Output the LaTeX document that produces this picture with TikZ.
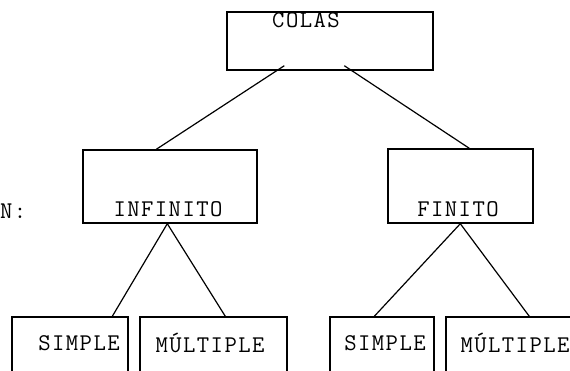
\documentclass[tikz,border=0pt]{standalone}
\usepackage{fontspec}
\newfontfamily\lbltt{Latin Modern Mono}[LetterSpace=6]
\usetikzlibrary{calc}
\begin{document}
\begin{tikzpicture}[x=1pt,y=-1pt,
  box/.style={draw,line width=1.4pt,rectangle,inner sep=0pt},
  lbl/.style={font=\fontsize{24}{28}\lbltt,inner sep=0pt},
  conn/.style={line width=1.2pt}]
\useasboundingbox (0,0) rectangle (570,370);
\clip (0,0) rectangle (570,370);
% boxes
\node[box,minimum width=206pt,minimum height=58pt] (colas) at (330,41) {};
\node[box,minimum width=174pt,minimum height=73pt] (inf) at (170,186.5) {};
\node[box,minimum width=145pt,minimum height=74pt] (fin) at (460.5,186) {};
\node[box,minimum width=116pt,minimum height=80pt] (s1) at (70,357) {};
\node[box,minimum width=147pt,minimum height=80pt] (m1) at (213.5,357) {};
\node[box,minimum width=104pt,minimum height=80pt] (s2) at (382,357) {};
\node[box,minimum width=160pt,minimum height=80pt] (m2) at (526,357) {};
% labels
\node[lbl] (tcolas) at (306,20) {COLAS};
\node[lbl] (tinf) at (168,209) {INFINITO};
\node[lbl] (tfin) at (458,209) {FINITO};
\node[lbl] (ts1) at (79,343) {SIMPLE};
\node[lbl] (tm1) at (210,343) {MÚLTIPLE};
\node[lbl] (ts2) at (385,343) {SIMPLE};
\node[lbl] (tm2) at (515,343) {MÚLTIPLE};
\node[lbl,anchor=west] (tn) at (0,211) {N:};
% connector ends
\coordinate (c1) at ($(colas.south west)+(58,-5)$);
\coordinate (c2) at ($(colas.south west)+(118,-5)$);
\coordinate (i0) at ($(inf.north west)+(74,0)$);
\coordinate (f0) at ($(fin.north west)+(82,0)$);
\coordinate (ib) at ($(inf.south west)+(85,0)$);
\coordinate (fb) at ($(fin.south west)+(73,0)$);
\coordinate (s1t) at ($(s1.north west)+(101,0)$);
\coordinate (m1t) at ($(m1.north west)+(86,0)$);
\coordinate (s2t) at ($(s2.north west)+(45,0)$);
\coordinate (m2t) at ($(m2.north west)+(84,0)$);
\draw[conn] (c1) -- (i0);
\draw[conn] (c2) -- (f0);
\draw[conn] (ib) -- (s1t);
\draw[conn] (ib) -- (m1t);
\draw[conn] (fb) -- (s2t);
\draw[conn] (fb) -- (m2t);
\end{tikzpicture}
\end{document}
